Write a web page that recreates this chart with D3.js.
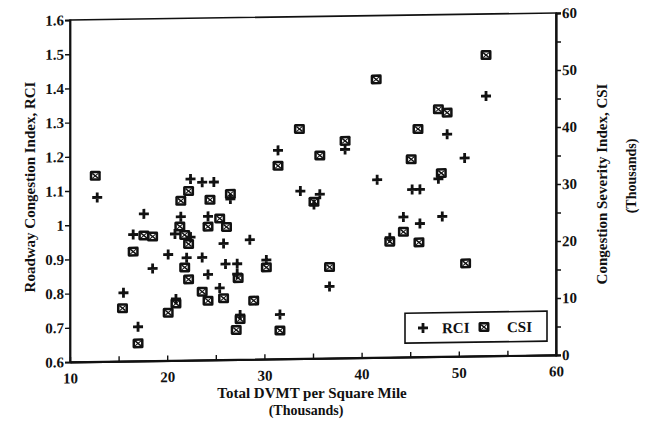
<!DOCTYPE html>
<html><head><meta charset="utf-8">
<script src="https://cdn.jsdelivr.net/npm/d3@7/dist/d3.min.js"></script>
<style>
html,body{margin:0;padding:0;background:#fff;}
text{font-family:"Liberation Serif","Times New Roman",serif;fill:#111;}
</style></head>
<body><svg id="c" width="652" height="426"></svg>
<script>
// ---- data ----
const xTicks = [10, 20, 30, 40, 50, 60];
const xMinorTicks = [15, 25, 35, 45, 55];
const rciTicks = [0.6, 0.7, 0.8, 0.9, 1.0, 1.1, 1.2, 1.3, 1.4, 1.5, 1.6];
const rciTickLabels = ["0.6", "0.7", "0.8", "0.9", "1", "1.1", "1.2", "1.3", "1.4", "1.5", "1.6"];
const csiTicks = [0, 10, 20, 30, 40, 50, 60];
const csiMinorTicks = [5, 15, 25, 35, 45, 55];

const rciX = [12.8,15.5,17.0,16.5,17.6,18.5,20.1,20.9,21.4,20.8,22.4,22.4,23.6,24.8,26.5,24.2,25.8,28.5,22.0,23.6,26.0,27.2,24.2,27.2,25.4,27.5,30.2,31.6,33.7,31.4,35.7,35.1,36.7,38.3,41.6,45.2,46.0,47.9,48.8,50.6,52.8,44.3,46.0,48.3,42.9];
const rciY = [1.08,0.80,0.70,0.97,1.03,0.87,0.91,0.78,1.02,0.97,0.96,1.13,1.12,1.12,1.07,1.02,0.94,0.95,0.90,0.90,0.88,0.88,0.85,0.85,0.81,0.73,0.89,0.73,1.09,1.21,1.08,1.05,0.81,1.21,1.12,1.09,1.09,1.12,1.25,1.18,1.36,1.01,0.99,1.01,0.95];

const csiX = [12.6,15.4,17.0,16.5,17.6,18.5,20.1,20.9,22.2,21.4,24.4,26.5,21.3,21.8,22.2,25.4,24.2,26.1,21.8,22.2,27.3,23.6,24.2,25.8,28.9,27.5,27.1,30.2,31.6,31.4,33.6,35.7,38.3,35.1,36.7,41.5,45.8,47.9,48.8,45.1,48.2,52.8,44.3,42.9,45.9,50.7];
const csiY = [32.6,9.3,3.1,19.2,22.0,21.8,8.4,10.0,29.7,28.0,28.1,29.1,23.5,22.0,20.4,24.8,23.4,23.3,16.3,14.2,14.3,12.0,10.4,10.8,10.3,7.1,5.2,16.1,5.0,33.9,40.3,35.6,38.1,27.5,16.0,48.8,40.0,43.4,42.8,34.7,32.2,52.8,22.0,20.3,20.1,16.3];

const legendItems = ["RCI", "CSI"];

// ---- layout ----
const L = 70, R = 556, T = 20, B = 362;
const svg = d3.select("#c");
const x = d3.scaleLinear().domain([10, 60]).range([L, R]);
const yL = d3.scaleLinear().domain([0.6, 1.6]).range([B, T]);
const yR = d3.scaleLinear().domain([0, 60]).range([B, T]);

const skew = Math.atan(-7 / 486) * 180 / Math.PI;
const g = svg.append("g").attr("transform", `translate(${L},0) skewY(${skew}) translate(${-L},0)`);

// frame
g.append("rect").attr("x", L).attr("y", T).attr("width", R - L).attr("height", B - T)
  .attr("fill", "none").attr("stroke", "#111").attr("stroke-width", 1.6);

// left axis
const axL = d3.axisLeft(yL).tickValues(rciTicks).tickFormat((d, i) => rciTickLabels[i]).tickSize(5).tickPadding(1);
const gL = g.append("g").attr("transform", `translate(${L},0)`).call(axL);
// right axis
const axR = d3.axisRight(yR).tickValues(csiTicks).tickFormat(d3.format("d")).tickSize(5).tickPadding(1);
const gR = g.append("g").attr("transform", `translate(${R},0)`).call(axR);
const axRm = d3.axisRight(yR).tickValues(csiMinorTicks).tickFormat("").tickSize(5);
const gRm = g.append("g").attr("transform", `translate(${R},0)`).call(axRm);
// bottom axis (ticks inward)
const axB = d3.axisBottom(x).tickValues(xTicks).tickFormat(d3.format("d")).tickSizeInner(-5).tickSizeOuter(0).tickPadding(8);
const gB = g.append("g").attr("transform", `translate(0,${B})`).call(axB);
const axBm = d3.axisBottom(x).tickValues(xMinorTicks).tickFormat("").tickSizeInner(-5).tickSizeOuter(0);
const gBm = g.append("g").attr("transform", `translate(0,${B})`).call(axBm);

[gL, gR, gRm, gB, gBm].forEach(a => {
  a.select(".domain").attr("stroke", "#111").attr("stroke-width", 1.8);
  a.selectAll(".tick line").attr("stroke", "#111").attr("stroke-width", 1.4);
  a.selectAll(".tick text").attr("font-size", 15).attr("font-weight", "bold")
    .attr("font-family", "Liberation Serif").attr("fill", "#111");
});
gB.selectAll(".tick text").attr("dy", "0.9em");

// markers
function csiMarker(sel) {
  sel.append("rect").attr("x", -5.5).attr("y", -5).attr("width", 11).attr("height", 10).attr("rx", 1.5)
    .attr("fill", "#111");
  sel.append("rect").attr("x", -3).attr("y", -2.5).attr("width", 6).attr("height", 5)
    .attr("fill", "#fff");
  sel.append("line").attr("x1", -3).attr("y1", -2.5).attr("x2", 3).attr("y2", 2.5)
    .attr("stroke", "#111").attr("stroke-width", 1.5);
  sel.append("line").attr("x1", 3).attr("y1", -2.5).attr("x2", -3).attr("y2", 2.5)
    .attr("stroke", "#111").attr("stroke-width", 1);
}
function rciMarker(sel) {
  sel.append("path").attr("d", "M-5,0H5M0,-5V5").attr("stroke", "#111").attr("stroke-width", 2.8);
}

const csiData = csiX.map((v, i) => [v, csiY[i]]);
const rciData = rciX.map((v, i) => [v, rciY[i]]);

g.append("g").selectAll("g").data(csiData).join("g")
  .attr("transform", d => `translate(${x(d[0])},${yR(d[1])})`).each(function () { csiMarker(d3.select(this)); });
g.append("g").selectAll("g").data(rciData).join("g")
  .attr("transform", d => `translate(${x(d[0])},${yL(d[1])})`).each(function () { rciMarker(d3.select(this)); });

// legend
const lg = g.append("g");
lg.append("rect").attr("x", 405).attr("y", 318).attr("width", 142).attr("height", 30)
  .attr("fill", "#fff").attr("stroke", "#111").attr("stroke-width", 1.6);
const li1 = lg.append("g").attr("transform", "translate(423,333)"); rciMarker(li1);
lg.append("text").attr("x", 442).attr("y", 338.5).attr("font-size", 15).attr("font-weight", "bold").text(legendItems[0]);
const li2 = lg.append("g").attr("transform", "translate(484,333)"); csiMarker(li2);
lg.append("text").attr("x", 507).attr("y", 338.5).attr("font-size", 15).attr("font-weight", "bold").text(legendItems[1]);

// titles
svg.append("text").attr("transform", "translate(35,187) rotate(-90)").attr("text-anchor", "middle")
  .attr("font-size", 15).attr("font-weight", "bold").text("Roadway Congestion Index, RCI");
svg.append("text").attr("transform", "translate(607,184) rotate(-90)").attr("text-anchor", "middle")
  .attr("font-size", 15).attr("font-weight", "bold").text("Congestion Severity Index, CSI");
svg.append("text").attr("transform", "translate(636,176) rotate(-90)").attr("text-anchor", "middle")
  .attr("font-size", 14).attr("font-weight", "bold").text("(Thousands)");
svg.append("text").attr("x", 312).attr("y", 398).attr("text-anchor", "middle")
  .attr("font-size", 15).attr("font-weight", "bold").text("Total DVMT per Square Mile");
svg.append("text").attr("x", 306).attr("y", 415).attr("text-anchor", "middle")
  .attr("font-size", 14).attr("font-weight", "bold").text("(Thousands)");
</script>
</body></html>
